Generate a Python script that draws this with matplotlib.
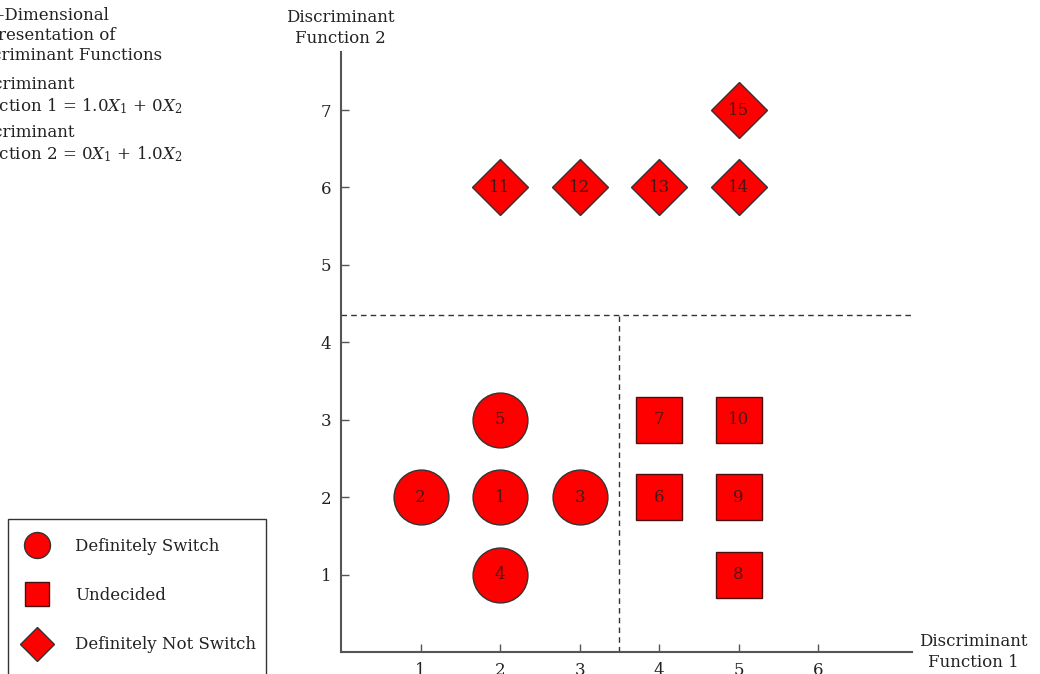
import matplotlib.pyplot as plt
from matplotlib.lines import Line2D
from matplotlib.patches import Rectangle

plt.rcParams['font.family'] = ['DejaVu Serif']
plt.rcParams['mathtext.fontset'] = 'dejavuserif'

# ---- data ----
circle_ids = [1, 2, 3, 4, 5]
circle_x = [2, 1, 3, 2, 2]
circle_y = [2, 2, 2, 1, 3]

square_ids = [6, 7, 8, 9, 10]
square_x = [4, 4, 5, 5, 5]
square_y = [2, 3, 1, 2, 3]

diamond_ids = [11, 12, 13, 14, 15]
diamond_x = [2, 3, 4, 5, 5]
diamond_y = [6, 6, 6, 6, 7]

x_ticks = [1, 2, 3, 4, 5, 6]
y_ticks = [1, 2, 3, 4, 5, 6, 7]
cut_x = 3.5
cut_y = 4.35

FS = 12
RED = '#ff0000'
EDGE = '#333333'
TXT = '#222222'

W, H = 1040, 674
fig = plt.figure(figsize=(W / 100, H / 100), dpi=100)
ax = fig.add_axes([341 / W, 22 / H, 571 / W, 600 / H])
ax.set_xlim(0, 7.18)
ax.set_ylim(0, 7.75)

for s in ['top', 'right']:
    ax.spines[s].set_visible(False)
for s in ['left', 'bottom']:
    ax.spines[s].set_color('#555555')
    ax.spines[s].set_linewidth(1.5)

ax.set_xticks(x_ticks)
ax.set_yticks(y_ticks)
ax.tick_params(direction='in', length=6, width=1, colors='#555555',
               labelcolor=TXT, labelsize=FS, pad=7)

# dashed dividing lines
ax.axhline(cut_y, color='#333333', lw=1, ls=(0, (4, 3)))
ax.plot([cut_x, cut_x], [0, cut_y], color='#333333', lw=1, ls=(0, (4, 3)))

# markers
ax.plot(circle_x, circle_y, 'o', ms=39.5, mfc=RED, mec=EDGE, mew=1, ls='none', zorder=3)
ax.plot(square_x, square_y, 's', ms=32.5, mfc=RED, mec='#4a1010', mew=1, ls='none', zorder=3)
ax.plot(diamond_x, diamond_y, 'D', ms=29, mfc=RED, mec=EDGE, mew=1, ls='none', zorder=3)

for ids, xs, ys in [(circle_ids, circle_x, circle_y),
                    (square_ids, square_x, square_y),
                    (diamond_ids, diamond_x, diamond_y)]:
    for i, xv, yv in zip(ids, xs, ys):
        ax.text(xv, yv, str(i), ha='center', va='center', fontsize=12,
                color='#4a1515', zorder=4)

# axis labels
fig.text(340 / W, 1 - 28 / H, 'Discriminant\nFunction 2', ha='center', va='center',
         fontsize=FS, color=TXT, linespacing=1.25)
fig.text(973 / W, 1 - 652 / H, 'Discriminant\nFunction 1', ha='center', va='center',
         fontsize=FS, color=TXT, linespacing=1.25)

# description text (left, partly cut off)
fig.text(-35 / W, 1 - 7 / H,
         'Two-Dimensional\nRepresentation of\nDiscriminant Functions',
         ha='left', va='top', fontsize=FS, color=TXT, linespacing=1.25)
fig.text(-34 / W, 1 - 76 / H,
         'Discriminant\nFunction 1 = 1.0$X_1$ + 0$X_2$',
         ha='left', va='top', fontsize=FS, color=TXT, linespacing=1.25)
fig.text(-34 / W, 1 - 124 / H,
         'Discriminant\nFunction 2 = 0$X_1$ + 1.0$X_2$',
         ha='left', va='top', fontsize=FS, color=TXT, linespacing=1.25)

# legend (frame runs off the bottom edge)
handles = [
    Line2D([], [], marker='o', ms=18.7, mfc=RED, mec=EDGE, mew=1, ls='none'),
    Line2D([], [], marker='s', ms=17.3, mfc=RED, mec='#4a1010', mew=1, ls='none'),
    Line2D([], [], marker='D', ms=17.5, mfc=RED, mec=EDGE, mew=1, ls='none'),
]
labels = ['Definitely Switch', 'Undecided', 'Definitely Not Switch']
leg = fig.legend(handles, labels, loc='upper left',
                 bbox_to_anchor=(8 / W, 1 - 523 / H),
                 fontsize=FS, frameon=False, borderpad=0.9,
                 labelspacing=1.93, handletextpad=1.41, handlelength=1.7,
                 borderaxespad=0)
for t in leg.get_texts():
    t.set_color(TXT)
fig.add_artist(Rectangle((8 / W, -0.1), 258 / W, (674 - 519) / H + 0.1,
                         transform=fig.transFigure, fill=False,
                         ec='#333333', lw=1))

fig.savefig('out.png', dpi=100)
